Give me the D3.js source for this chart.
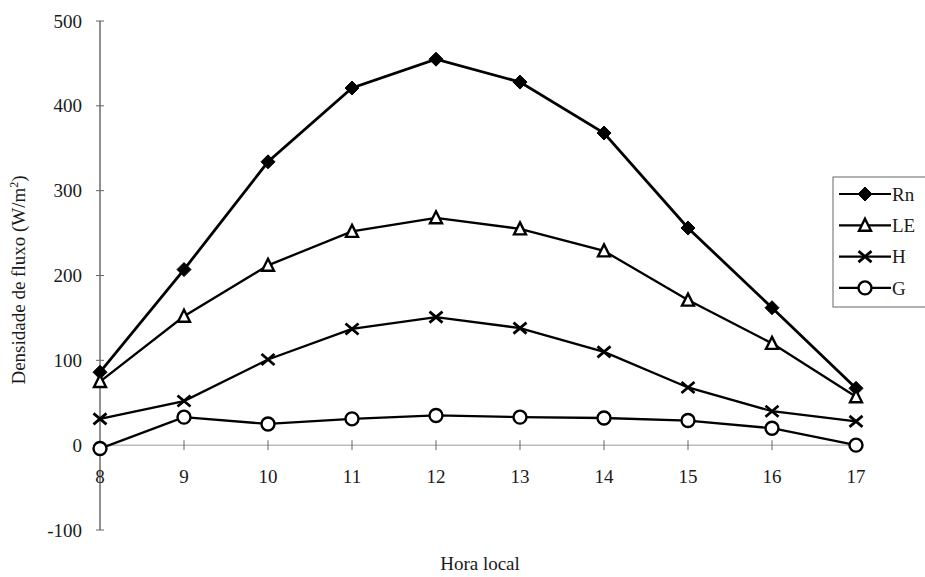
<!DOCTYPE html>
<html><head><meta charset="utf-8">
<script src="https://cdn.jsdelivr.net/npm/d3@7"></script>
<style>body{margin:0;background:#fff}svg{display:block}text{font-family:"Liberation Serif","Times New Roman",serif;fill:#1a1a1a}</style>
</head><body><svg id="c" width="925" height="577"></svg>
<script>
const hours = [8,9,10,11,12,13,14,15,16,17];
const Rn = [86,207,334,421,455,428,368,256,162,67];
const LE = [75,152,212,252,268,255,229,171,120,57];
const H  = [31,52,101,137,151,138,110,68,40,28];
const G  = [-4,33,25,31,35,33,32,29,20,0];
const seriesNames = ["Rn","LE","H","G"];
const yTicks = [-100,0,100,200,300,400,500];

const svg = d3.select("#c");
const x = d3.scaleLinear().domain([8,17]).range([100,856]);
const y = d3.scaleLinear().domain([-100,500]).range([530,21]);
const FS = 19;

// y axis
svg.append("line").attr("x1",x(8)).attr("x2",x(8)).attr("y1",y(-100)).attr("y2",y(500))
  .attr("stroke","#555").attr("stroke-width",1.3);
yTicks.forEach(t=>{
  svg.append("line").attr("x1",x(8)-4).attr("x2",x(8)+4).attr("y1",y(t)).attr("y2",y(t)).attr("stroke","#666").attr("stroke-width",1);
  svg.append("text").attr("x",82).attr("y",y(t)).attr("dy","0.35em").attr("text-anchor","end")
    .attr("font-size",FS).text(t);
});
// x axis at zero
svg.append("line").attr("x1",x(8)).attr("x2",x(17)).attr("y1",y(0)).attr("y2",y(0))
  .attr("stroke","#999").attr("stroke-width",1);
hours.forEach(h=>{
  svg.append("line").attr("x1",x(h)).attr("x2",x(h)).attr("y1",y(0)-5).attr("y2",y(0)+5).attr("stroke","#666").attr("stroke-width",1);
  svg.append("text").attr("x",x(h)).attr("y",476).attr("dy","0.35em").attr("text-anchor","middle")
    .attr("font-size",FS).text(h);
});
// axis titles
svg.append("text").attr("transform","translate(25,280) rotate(-90)").attr("text-anchor","middle")
  .attr("font-size",FS).html('Densidade de fluxo (W/m<tspan dy="-7" font-size="12">2</tspan><tspan dy="7">)</tspan>');
svg.append("text").attr("x",480).attr("y",570).attr("text-anchor","middle").attr("font-size",FS).text("Hora local");

const data = [Rn,LE,H,G];
const widths = [2.8,2.3,2.3,2.3];
const line = d3.line().x((d,i)=>x(hours[i])).y(d=>y(d));

function marker(g, type, cx, cy){
  if(type==="Rn"){
    g.append("path").attr("d",`M${cx},${cy-7}L${cx+7},${cy}L${cx},${cy+7}L${cx-7},${cy}Z`).attr("fill","#000").attr("stroke","#000").attr("stroke-width",1);
  } else if(type==="LE"){
    g.append("path").attr("d",`M${cx},${cy-6.5}L${cx+6},${cy+5.5}L${cx-6},${cy+5.5}Z`).attr("fill","#fff").attr("stroke","#000").attr("stroke-width",2.4);
  } else if(type==="H"){
    g.append("path").attr("d",`M${cx-6.5},${cy-5.5}L${cx+6.5},${cy+5.5}M${cx-6.5},${cy+5.5}L${cx+6.5},${cy-5.5}`).attr("stroke","#000").attr("stroke-width",2.8);
  } else {
    g.append("circle").attr("cx",cx).attr("cy",cy).attr("r",6.5).attr("fill","#fff").attr("stroke","#000").attr("stroke-width",2.4);
  }
}

data.forEach((vals,k)=>{
  svg.append("path").datum(vals).attr("d",line).attr("fill","none").attr("stroke","#000").attr("stroke-width",widths[k]);
});
data.forEach((vals,k)=>{
  const g = svg.append("g");
  vals.forEach((v,i)=>marker(g, seriesNames[k], x(hours[i]), y(v)));
});

// legend
const lg = svg.append("g");
lg.append("rect").attr("x",833).attr("y",177).attr("width",100).attr("height",130).attr("fill","#fff").attr("stroke","#666").attr("stroke-width",1);
seriesNames.forEach((n,i)=>{
  const ly = 194 + i*31.3;
  lg.append("line").attr("x1",839).attr("x2",891).attr("y1",ly).attr("y2",ly).attr("stroke","#000").attr("stroke-width",2.2);
  marker(lg, n, 865, ly);
  lg.append("text").attr("x",892).attr("y",ly).attr("dy","0.35em").attr("font-size",FS).text(n);
});
</script></body></html>
